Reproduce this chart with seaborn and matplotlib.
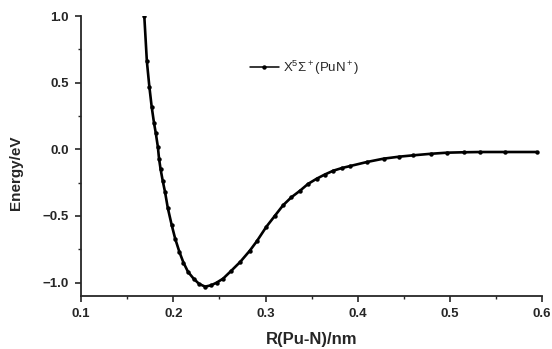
import pandas as pd
import matplotlib
matplotlib.use("Agg")
import matplotlib.pyplot as plt
from matplotlib.ticker import MultipleLocator
import seaborn as sns

# potential energy curve points
r_nm = [0.1685, 0.1713, 0.1740, 0.1765, 0.1790, 0.1810, 0.1832, 0.1845,
        0.1862, 0.1886, 0.1910, 0.1940, 0.1983, 0.2020, 0.2066, 0.2110,
        0.2160, 0.2220, 0.2280, 0.2345, 0.2410, 0.2470, 0.2540, 0.2630,
        0.2725, 0.2830, 0.2905, 0.3010, 0.3100, 0.3190, 0.3280, 0.3375,
        0.3460, 0.3556, 0.3640, 0.3736, 0.3830, 0.3920, 0.4100, 0.4280,
        0.4450, 0.4600, 0.4800, 0.4970, 0.5150, 0.5330, 0.5600, 0.5940]
energy_ev = [1.00, 0.66, 0.47, 0.32, 0.20, 0.12, 0.02, -0.07,
             -0.15, -0.24, -0.32, -0.44, -0.57, -0.67, -0.77, -0.85,
             -0.92, -0.97, -1.01, -1.03, -1.02, -1.00, -0.97, -0.91,
             -0.845, -0.76, -0.69, -0.58, -0.50, -0.42, -0.36, -0.31,
             -0.26, -0.22, -0.19, -0.16, -0.14, -0.125, -0.095, -0.07,
             -0.055, -0.045, -0.033, -0.025, -0.022, -0.020, -0.020, -0.020]
series_label = r"X$^5\Sigma^+$(PuN$^+$)"

df = pd.DataFrame({"R": r_nm, "E": energy_ev})

sns.set_style("ticks")
plt.rcParams["font.family"] = ["Liberation Sans", "DejaVu Sans"]
plt.rcParams["mathtext.fontset"] = "custom"
plt.rcParams["mathtext.rm"] = "Liberation Sans"
plt.rcParams["mathtext.it"] = "Liberation Sans"

fig = plt.figure(figsize=(5.52, 3.49), dpi=100)
ax = fig.add_axes([0.147, 0.152, 0.835, 0.802])

sns.lineplot(data=df, x="R", y="E", ax=ax, color="black", linewidth=1.9,
             marker="o", markersize=3.2, markeredgewidth=0,
             label=series_label)

ax.set_xlim(0.1, 0.6)
ax.set_ylim(-1.1, 1.0)
ax.xaxis.set_major_locator(MultipleLocator(0.1))
ax.xaxis.set_minor_locator(MultipleLocator(0.05))
ax.yaxis.set_major_locator(MultipleLocator(0.5))
ax.yaxis.set_minor_locator(MultipleLocator(0.25))
ax.tick_params(which="major", direction="out", length=4, width=1.2,
               labelsize=9.5, pad=5)
ax.tick_params(which="minor", direction="out", length=2.5, width=1)
for lab in ax.get_xticklabels() + ax.get_yticklabels():
    lab.set_fontweight("bold")

ax.set_xlabel("R(Pu-N)/nm", fontsize=12, fontweight="bold")
ax.set_ylabel("Energy/eV", fontsize=11, fontweight="bold")
ax.xaxis.set_label_coords(0.5, -0.13)
ax.yaxis.set_label_coords(-0.126, 0.44)

for side in ["left", "bottom"]:
    ax.spines[side].set_linewidth(1.3)
sns.despine(ax=ax)

leg = ax.legend(loc="upper left", bbox_to_anchor=(0.34, 0.89), frameon=False,
                fontsize=9.5, handlelength=2.2, handletextpad=0.3)
leg.get_lines()[0].set_linewidth(1.1)

fig.savefig("out.png", dpi=100)
